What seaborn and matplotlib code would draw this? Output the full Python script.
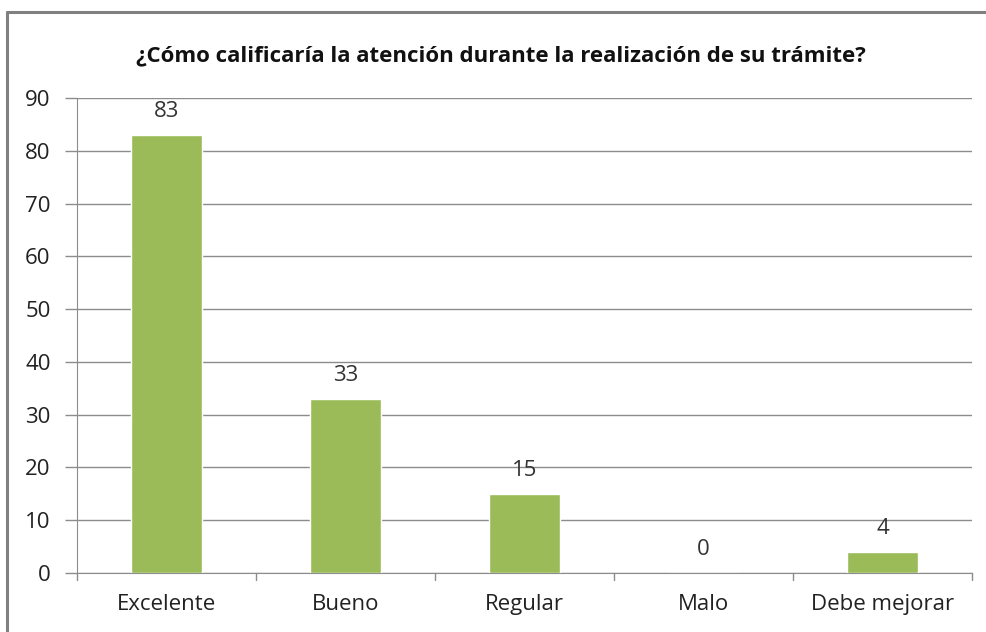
import pandas as pd
import seaborn as sns
import matplotlib.pyplot as plt
from matplotlib.lines import Line2D

# Datos de la encuesta
categorias = ['Excelente', 'Bueno', 'Regular', 'Malo', 'Debe mejorar']
respuestas = [83, 33, 15, 0, 4]
titulo = '¿Cómo calificaría la atención durante la realización de su trámite?'

df = pd.DataFrame({'Calificacion': categorias, 'Respuestas': respuestas})

sns.set_style('white')
plt.rcParams['font.family'] = ['Open Sans', 'DejaVu Sans']

fig = plt.figure(figsize=(9.86, 6.32), dpi=100)
ax = fig.add_axes([0.0781, 0.0934, 0.9077, 0.7516])

sns.barplot(data=df, x='Calificacion', y='Respuestas', color='#9BBB59',
            saturation=1, width=0.4, ax=ax, zorder=3)

ax.set_ylim(0, 90)
ax.set_xlim(-0.5, 4.5)
ax.set_yticks(range(0, 91, 10))
ax.yaxis.grid(True, color='#8C8C8C', linewidth=1)
ax.set_axisbelow(True)
ax.set_xlabel('')
ax.set_ylabel('')

for s in ['top', 'right']:
    ax.spines[s].set_visible(False)
ax.spines['left'].set_color('#8C8C8C')
ax.spines['bottom'].set_color('#8C8C8C')

ax.tick_params(axis='y', labelsize=16, length=9, width=1, color='#8C8C8C',
               left=True, pad=10, labelcolor='#222222')
ax.tick_params(axis='x', labelsize=16, bottom=False, pad=12, labelcolor='#222222')

# marcas entre categorias
for xb in [-0.5, 0.5, 1.5, 2.5, 3.5, 4.5]:
    ax.plot([xb, xb], [0, -1.4], color='#8C8C8C', lw=1, clip_on=False)

for i, v in enumerate(respuestas):
    ax.text(i, v + 2.4, str(v), ha='center', va='bottom', fontsize=16,
            color='#333333')

fig.text(0.5075, 0.912, titulo, ha='center', va='center', fontsize=16,
         fontweight='bold', color='#111111')

# marco del grafico (recortado)
fig.add_artist(Line2D([0.0075, 0.0075], [0.0, 0.981], color='#808080', lw=2.2))
fig.add_artist(Line2D([0.0075, 1.0], [0.981, 0.981], color='#808080', lw=2.2))

fig.savefig('out.png', dpi=100)
